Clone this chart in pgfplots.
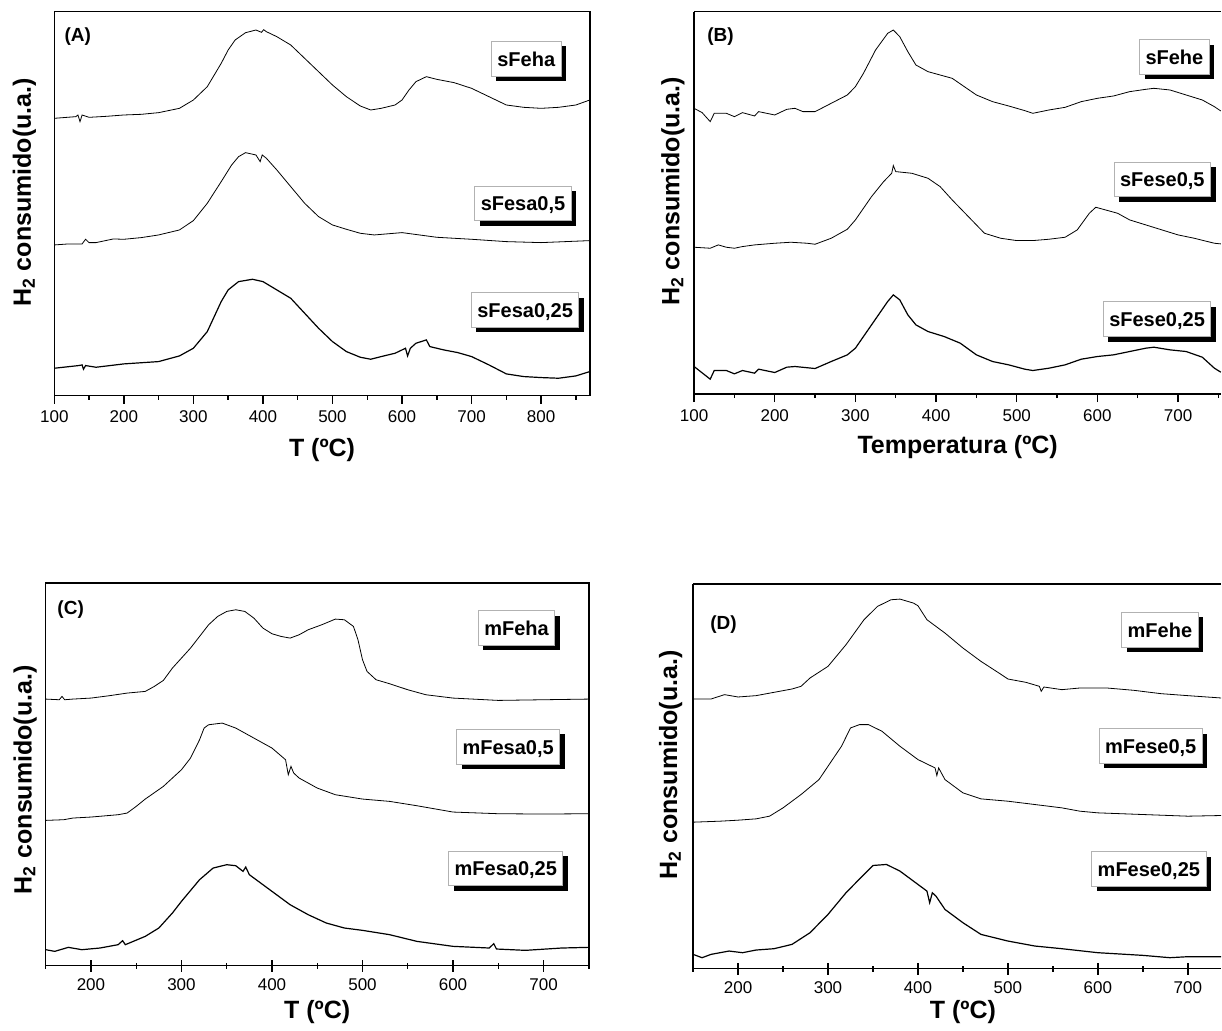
\documentclass[border=0pt]{standalone}
\usepackage{fontspec}
\setmainfont{Liberation Sans}
\usepackage{pgfplots}
\pgfplotsset{compat=1.18}
\usetikzlibrary{shadows}
\pgfplotsset{
  panel/.style={scale only axis, anchor=south west, clip=false,
    axis line style={line width=0.7pt},
    ytick=\empty, ymin=0,
    xtick pos=left,
    tick style={black, line width=0.7pt},
    /pgf/number format/assume math mode=true,
    tick label style={font=\fontsize{8.5}{10}\selectfont},
    label style={font=\bfseries\fontsize{12.5}{14}\selectfont},
    cycle list={{black, mark=none, line width=0.6pt, smooth, tension=0.35}},
  },
  outer/.style={tick align=outside, major tick length=4pt, minor tick length=2pt},
  cross/.style={tick align=center, major tick length=6pt, minor tick length=3pt},
}
\tikzset{
  lbl/.style={draw=gray!60, line width=0.5pt, fill=white,
    font=\bfseries\fontsize{10}{12}\selectfont,
    inner xsep=3pt, inner ysep=5pt, text height=7.35pt, text depth=0pt,
    drop shadow={shadow xshift=2.5pt, shadow yshift=-2.5pt, fill=black, opacity=1}},
  plab/.style={font=\bfseries\fontsize{9.5}{11}\selectfont, anchor=center},
}
\begin{document}
\begin{tikzpicture}
\path (0,0) rectangle (611pt,514.5pt);
% ---------------- (A)
\begin{axis}[panel, outer, at={(27.15pt,316.65pt)}, width=267.85pt, height=192pt,
  xmin=100, xmax=870, ymax=1152,
  xtick={100,200,...,800}, minor xtick={150,250,...,850},
  xlabel={T (ºC)}, ylabel={H\textsubscript{2} consumido(u.a.)},
  xlabel style={at={(axis description cs:0.5,-0.141)}, anchor=center},
  ylabel style={at={(axis description cs:-0.0556,0.529)}, anchor=center}]
\addplot coordinates {(100,832)(131,837)(134,842)(137,822)(140,842)(150,835)(175,838)(200,842)(225,844)(250,849)(280,862)(300,887)(320,927)(340,997)(350,1037)(360,1067)(375,1089)(390,1097)(398,1090)(401,1098)(405,1092)(420,1077)(440,1052)(460,1012)(480,972)(500,932)(520,897)(540,869)(555,857)(570,862)(590,872)(600,887)(610,917)(620,942)(635,957)(650,949)(675,939)(700,922)(725,897)(750,872)(775,865)(800,862)(825,865)(850,872)(870,887)};
\addplot coordinates {(100,452)(120,455)(140,455)(145,469)(150,459)(160,459)(185,470)(200,469)(225,474)(250,482)(280,497)(300,525)(320,577)(340,642)(355,692)(365,717)(375,729)(390,722)(396,702)(399,722)(405,712)(420,677)(440,627)(460,577)(480,537)(500,512)(520,499)(540,487)(560,482)(600,489)(650,475)(700,469)(750,462)(800,459)(870,465)};
\addplot coordinates {(100,82)(135,90)(140,92)(142,79)(145,90)(160,85)(200,95)(250,102)(280,119)(300,142)(320,192)(340,282)(350,317)(365,342)(385,349)(400,342)(420,317)(440,292)(460,247)(480,202)(500,162)(520,132)(540,115)(555,109)(570,117)(590,127)(605,142)(608,119)(612,142)(620,157)(635,167)(640,147)(660,137)(680,129)(700,117)(725,92)(750,65)(775,57)(800,54)(825,52)(850,59)(870,72)};
\node[lbl] at (axis cs:778.6,1011) {sFeha};
\node[lbl] at (axis cs:774,576) {sFesa0,5};
\node[lbl] at (axis cs:777,257) {sFesa0,25};
\node[plab] at (axis description cs:0.044,0.935) {(A)};
\end{axis}
% ---------------- (B)
\begin{axis}[panel, outer, axis y line*=left, at={(347.15pt,317.35pt)}, width=263.7pt, height=191.3pt,
  xmin=100, xmax=753.6, ymax=1148,
  xtick={100,200,...,700}, minor xtick={150,250,...,750},
  xlabel={Temperatura (ºC)}, ylabel={H\textsubscript{2} consumido(u.a.)},
  xlabel style={at={(axis description cs:0.5,-0.138)}, anchor=center},
  ylabel style={at={(axis description cs:-0.040,0.53)}, anchor=center}]
\addplot coordinates {(100,858)(110,845)(120,818)(125,843)(140,843)(150,833)(160,845)(175,835)(180,848)(200,838)(215,855)(225,858)(235,848)(250,848)(270,873)(290,898)(300,923)(310,963)(325,1033)(340,1083)(347,1093)(355,1073)(365,1028)(375,988)(390,968)(405,958)(420,948)(435,923)(450,898)(470,878)(490,865)(510,851)(520,843)(540,853)(560,861)(580,878)(600,888)(620,895)(640,908)(660,915)(670,918)(690,913)(710,898)(730,883)(745,863)(753,850)};
\addplot coordinates {(100,441)(120,438)(130,448)(140,441)(150,438)(160,443)(175,448)(200,453)(220,456)(240,453)(250,450)(270,468)(290,495)(300,523)(320,593)(335,638)(345,663)(347,686)(350,668)(370,663)(390,648)(405,623)(420,583)(440,533)(460,483)(480,468)(500,461)(520,461)(540,465)(560,471)(575,493)(590,543)(598,561)(610,553)(625,543)(640,523)(660,508)(680,493)(700,478)(720,468)(745,453)(753,451)};
\addplot coordinates {(100,83)(120,45)(125,71)(140,71)(150,61)(160,71)(175,63)(180,75)(200,65)(215,81)(225,83)(250,77)(270,98)(290,118)(300,138)(320,208)(340,278)(347,298)(355,283)(365,238)(375,208)(390,188)(410,173)(430,153)(450,118)(470,98)(490,88)(510,75)(520,71)(540,78)(560,88)(580,105)(600,113)(620,118)(640,128)(660,138)(670,141)(690,133)(710,128)(730,111)(745,78)(753,66)};
\node[lbl] at (axis cs:695.5,1012) {sFehe};
\node[lbl] at (axis cs:680.5,644) {sFese0,5};
\node[lbl] at (axis cs:674,225) {sFese0,25};
\node[plab] at (axis description cs:0.05,0.935) {(B)};
\end{axis}
% ---------------- (C)
\begin{axis}[panel, cross, at={(22.85pt,31.5pt)}, width=271.65pt, height=191.35pt,
  xmin=150, xmax=750, ymax=1148,
  xtick={200,300,...,700}, minor xtick={150,250,...,750},
  xlabel={T (ºC)}, ylabel={H\textsubscript{2} consumido(u.a.)},
  xlabel style={at={(axis description cs:0.5,-0.12)}, anchor=center},
  ylabel style={at={(axis description cs:-0.038,0.486)}, anchor=center}]
\addplot coordinates {(150,800)(165,798)(168,808)(171,798)(180,800)(200,803)(220,810)(240,818)(260,823)(270,838)(280,856)(290,893)(300,923)(310,953)(320,988)(330,1023)(340,1048)(350,1063)(360,1068)(370,1063)(380,1043)(390,1013)(400,996)(410,988)(420,983)(430,993)(440,1008)(455,1023)(470,1040)(480,1038)(490,1018)(495,978)(500,918)(505,883)(515,858)(530,846)(550,828)(570,813)(600,803)(650,796)(700,798)(750,800)};
\addplot coordinates {(150,436)(170,438)(180,443)(200,446)(230,453)(240,458)(250,478)(260,500)(280,538)(300,588)(310,623)(320,678)(325,713)(330,723)(345,728)(360,713)(380,683)(400,653)(415,618)(418,573)(421,598)(424,578)(430,563)(450,533)(470,513)(500,500)(530,493)(560,480)(600,461)(650,456)(700,455)(750,456)};
\addplot coordinates {(150,48)(160,43)(175,55)(190,48)(210,53)(230,63)(235,75)(238,63)(260,88)(275,113)(290,158)(300,193)(320,258)(335,293)(350,303)(360,300)(368,283)(371,296)(375,273)(380,263)(400,223)(420,183)(440,153)(460,128)(480,113)(500,106)(530,93)(560,73)(600,58)(640,53)(645,66)(648,50)(680,46)(720,53)(750,55)};
\node[lbl] at (axis cs:670.2,1013) {mFeha};
\node[lbl] at (axis cs:660.9,657) {mFesa0,5};
\node[lbl] at (axis cs:658.3,292) {mFesa0,25};
\node[plab] at (axis description cs:0.046,0.93) {(C)};
\end{axis}
% ---------------- (D)
\begin{axis}[panel, cross, axis y line*=left, at={(346.65pt,30pt)}, width=264.1pt, height=192.35pt,
  xmin=150, xmax=737, ymax=1155,
  xtick={200,300,...,700}, minor xtick={150,250,...,750},
  xlabel={T (ºC)}, ylabel={H\textsubscript{2} consumido(u.a.)},
  xlabel style={at={(axis description cs:0.511,-0.112)}, anchor=center},
  ylabel style={at={(axis description cs:-0.0426,0.53)}, anchor=center}]
\addplot coordinates {(150,810)(170,810)(185,823)(200,816)(220,820)(240,830)(260,840)(270,848)(280,873)(300,908)(320,973)(340,1048)(355,1088)(370,1108)(380,1110)(395,1098)(400,1090)(410,1048)(430,1008)(450,963)(470,923)(490,888)(500,870)(520,860)(535,848)(537,833)(540,846)(560,838)(580,843)(610,843)(640,836)(670,826)(700,820)(737,813)};
\addplot coordinates {(150,440)(180,443)(200,446)(220,450)(235,458)(250,483)(270,523)(290,568)(300,608)(315,668)(325,723)(335,733)(345,733)(360,713)(380,668)(400,628)(419,603)(421,580)(423,603)(426,588)(430,568)(450,528)(470,510)(500,503)(530,493)(560,483)(580,473)(600,468)(650,463)(700,458)(737,460)};
\addplot coordinates {(150,43)(160,33)(170,43)(190,53)(205,48)(220,56)(240,60)(260,73)(280,108)(300,163)(320,228)(340,283)(350,310)(365,313)(380,293)(400,253)(410,233)(413,198)(416,228)(420,218)(430,178)(450,138)(470,103)(500,83)(530,68)(560,60)(600,48)(650,40)(680,33)(700,36)(737,36)};
\node[lbl] at (axis cs:669,1018) {mFehe};
\node[lbl] at (axis cs:658.8,669) {mFese0,5};
\node[lbl] at (axis cs:656.7,299) {mFese0,25};
\node[plab] at (axis description cs:0.0576,0.896) {(D)};
\end{axis}
\end{tikzpicture}
\end{document}
